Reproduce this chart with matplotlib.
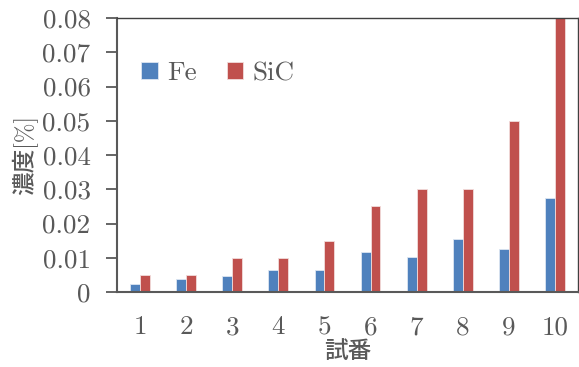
import matplotlib
matplotlib.use("Agg")
import matplotlib.pyplot as plt
import numpy as np

trials = ["1", "2", "3", "4", "5", "6", "7", "8", "9", "10"]
fe = [0.0022, 0.0037, 0.0047, 0.0064, 0.0064, 0.0116, 0.0103, 0.0156, 0.0126, 0.0274]
sic = [0.005, 0.005, 0.010, 0.010, 0.015, 0.025, 0.030, 0.030, 0.050, 0.080]
yticks = [0, 0.01, 0.02, 0.03, 0.04, 0.05, 0.06, 0.07, 0.08]
ytick_labels = ["0", "0.01", "0.02", "0.03", "0.04", "0.05", "0.06", "0.07", "0.08"]

serif = ["cmr10", "DejaVu Serif"]
cjk = ["cmr10", "Noto Sans CJK JP"]
text_color = "#595959"

fig = plt.figure(figsize=(5.79, 3.67), dpi=100)
ax = fig.add_axes([117 / 579, 1 - 292 / 367, (578 - 117) / 579, (292 - 18) / 367])

x = np.arange(len(trials))
w = 0.215
ax.bar(x - w / 2, fe, w, color="#4F81BD", edgecolor="#DCE6F2", linewidth=0.6, label="Fe")
ax.bar(x + w / 2, sic, w, color="#C0504D", edgecolor="#F2DCDB", linewidth=0.6, label="SiC")

ax.set_xlim(-0.5, len(trials) - 0.5)
ax.set_ylim(0, 0.08)
ax.set_yticks(yticks)
ax.set_yticklabels(ytick_labels, family=serif, fontsize=19.5, color=text_color)
ax.set_xticks(x)
ax.set_xticklabels(trials, family=serif, fontsize=19.5, color=text_color)
ax.tick_params(axis="y", direction="out", length=8, width=1.3, color=text_color, pad=11)
ax.tick_params(axis="x", length=0, pad=17)

for s in ["left", "bottom"]:
    ax.spines[s].set_color(text_color)
    ax.spines[s].set_linewidth(1.5)
for s in ["top", "right"]:
    ax.spines[s].set_color("#404040")
    ax.spines[s].set_linewidth(1.0)

ax.set_ylabel("濃度[%]", family=cjk, fontsize=17, fontweight="medium", color=text_color, labelpad=3)
ax.set_xlabel("試番", family=cjk, fontsize=17, fontweight="medium", color=text_color, labelpad=1)

leg = ax.legend(loc="upper left", bbox_to_anchor=(0.0, 0.93), ncol=2, frameon=False,
                prop={"family": serif, "size": 19.5}, handlelength=0.6, handleheight=0.6,
                handletextpad=0.35, columnspacing=1.1, labelcolor=text_color)

fig.savefig("out.png", dpi=100)
